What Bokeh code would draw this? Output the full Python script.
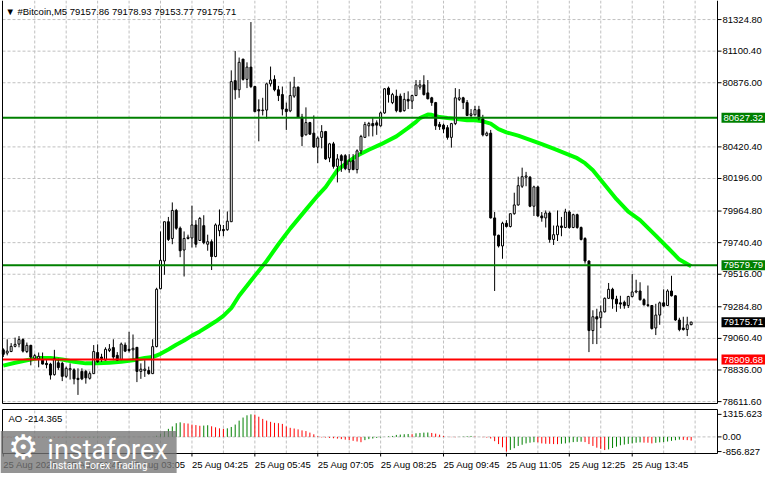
from bokeh.plotting import figure
from bokeh.models import ColumnDataSource, Label, Range1d
from bokeh.core.properties import value
from bokeh.layouts import column
from bokeh.embed import file_html
from bokeh.resources import INLINE

# --- data (M5 bars, 25 Aug from 00:25) ---
opens = [78979, 78956, 78967, 79004, 79020, 79052, 78967, 79011, 78919, 78915,
         78906, 78883, 78878, 78803, 78887, 78883, 78791, 78837, 78837, 78777,
         78826, 78826, 78777, 78810, 78960, 78928, 78906, 78974, 78995, 78940,
         78910, 79013, 78983, 78979, 78997, 78826, 78832, 78832, 78810, 79002,
         79413, 79610, 79889, 79770, 79969, 79843, 79688, 79770, 79774, 79866,
         79756, 79861, 79729, 79747, 79642, 79825, 79834, 79832, 79889, 80891,
         80826, 81044, 80900, 80987, 80849, 80685, 80678, 80682, 80868, 80900,
         80826, 80792, 80689, 80676, 80781, 80845, 80632, 80506, 80593, 80518,
         80419, 80488, 80529, 80342, 80442, 80282, 80358, 80358, 80259, 80323,
         80259, 80392, 80488, 80570, 80586, 80591, 80570, 80662, 80838, 80735,
         80781, 80781, 80678, 80758, 80746, 80785, 80845, 80861, 80804, 80769,
         80735, 80580, 80575, 80557, 80488, 80586, 80758, 80769, 80735, 80644,
         80648, 80685, 80621, 80502, 80518, 79916, 79793, 79717, 79878, 79855,
         79946, 80008, 80141, 80205, 80205, 79999, 80136, 79930, 79916, 79951,
         79763, 79797, 79859, 79848, 79958, 79848, 79939, 79848, 79770, 79610,
         79116, 79214, 79207, 79249, 79345, 79409, 79340, 79313, 79317, 79294,
         79358, 79390, 79397, 79335, 79299, 79294, 79134, 79226, 79313, 79294,
         79397, 79363, 79191, 79134, 79123, 79157.86]
highs = [78990, 79054, 79027, 79066, 79077, 79061, 79031, 79015, 78951, 78960,
         78960, 78906, 78887, 78979, 78917, 78894, 78860, 78883, 78848, 78848,
         78848, 78837, 78826, 79013, 79018, 78951, 78997, 79020, 79054, 78963,
         79031, 79031, 79107, 79088, 78997, 78883, 78906, 78860, 79054, 79420,
         79820, 79889, 79923, 80026, 79980, 79855, 79820, 79797, 80003, 79900,
         79923, 79935, 79797, 79763, 79877, 79976, 79866, 79962, 80964, 81101,
         81055, 81044, 81021, 81307, 80854, 80758, 80769, 80877, 80991, 80929,
         80854, 80849, 80735, 80884, 80918, 80849, 80655, 80701, 80598, 80644,
         80495, 80575, 80534, 80449, 80456, 80369, 80369, 80369, 80369, 80369,
         80403, 80506, 80598, 80598, 80625, 80609, 80671, 80838, 80849, 80804,
         80827, 80799, 80804, 80815, 80792, 80895, 80895, 80929, 80895, 80776,
         80740, 80598, 80586, 80575, 80591, 80838, 80831, 80776, 80753, 80689,
         80712, 80712, 80648, 80529, 80541, 79958, 79797, 79889, 79900, 79946,
         80095, 80209, 80273, 80243, 80214, 80145, 80145, 79958, 79969, 79962,
         79862, 79969, 79923, 79981, 79969, 79946, 79946, 79855, 79779, 79614,
         79260, 79271, 79294, 79351, 79454, 79420, 79363, 79363, 79329, 79363,
         79518, 79477, 79459, 79345, 79436, 79294, 79306, 79322, 79409, 79409,
         79505, 79367, 79207, 79214, 79214, 79178.93]
lows = [78928, 78940, 78963, 78997, 78997, 78960, 78956, 78869, 78910, 78855,
        78876, 78848, 78768, 78796, 78837, 78757, 78780, 78768, 78734, 78659,
        78764, 78739, 78768, 78810, 78887, 78894, 78901, 78963, 78906, 78901,
        78906, 78963, 78960, 78906, 78750, 78773, 78787, 78803, 78810, 78997,
        79409, 79512, 79752, 79729, 79832, 79637, 79500, 79763, 79706, 79706,
        79752, 79729, 79683, 79546, 79637, 79786, 79786, 79825, 79889, 80758,
        80769, 80891, 80838, 80838, 80667, 80460, 80644, 80621, 80849, 80815,
        80746, 80644, 80541, 80667, 80769, 80627, 80426, 80502, 80506, 80415,
        80305, 80410, 80328, 80312, 80266, 80168, 80243, 80255, 80237, 80255,
        80232, 80369, 80483, 80495, 80495, 80506, 80564, 80655, 80735, 80724,
        80666, 80666, 80671, 80689, 80689, 80781, 80827, 80785, 80758, 80712,
        80541, 80541, 80518, 80472, 80415, 80575, 80746, 80689, 80639, 80632,
        80644, 80609, 80495, 80495, 79912, 79397, 79706, 79626, 79848, 79848,
        79939, 80003, 80129, 80141, 79992, 79930, 79923, 79889, 79848, 79740,
        79724, 79752, 79786, 79843, 79839, 79843, 79839, 79756, 79592, 78963,
        79020, 79020, 79134, 79244, 79340, 79271, 79249, 79271, 79271, 79276,
        79351, 79381, 79329, 79294, 79283, 79123, 79084, 79157, 79283, 79290,
        79358, 79185, 79111, 79116, 79077, 79153.77]
closes = [78947, 78970, 79004, 79018, 79052, 78970, 79011, 78928, 78938, 78933,
          78878, 78874, 78800, 78917, 78853, 78791, 78848, 78846, 78773, 78768,
          78773, 78780, 78810, 78967, 78894, 78917, 78983, 78986, 78928, 78906,
          79020, 78970, 78974, 78990, 78826, 78842, 78842, 78810, 79002, 79409,
          79615, 79889, 79763, 79969, 79843, 79683, 79770, 79779, 79866, 79729,
          79912, 79740, 79747, 79642, 79866, 79866, 79825, 79893, 80884, 80826,
          81021, 80900, 80987, 80849, 80671, 80676, 80682, 80868, 80895, 80826,
          80785, 80689, 80671, 80785, 80845, 80632, 80495, 80593, 80511, 80419,
          80483, 80529, 80335, 80442, 80282, 80335, 80323, 80266, 80319, 80259,
          80392, 80495, 80580, 80586, 80570, 80575, 80662, 80833, 80792, 80792,
          80678, 80671, 80758, 80746, 80785, 80861, 80861, 80792, 80762, 80735,
          80570, 80564, 80547, 80488, 80586, 80769, 80769, 80735, 80644, 80655,
          80685, 80621, 80506, 80518, 79916, 79793, 79717, 79878, 79855, 79946,
          80008, 80145, 80209, 80214, 79999, 80136, 79930, 79916, 79951, 79763,
          79797, 79859, 79848, 79958, 79848, 79939, 79848, 79763, 79610, 79116,
          79214, 79198, 79249, 79345, 79409, 79340, 79306, 79304, 79294, 79358,
          79390, 79397, 79335, 79299, 79294, 79130, 79226, 79313, 79290, 79397,
          79363, 79191, 79123, 79123, 79157, 79175.71]

# moving average, sampled at bar indexes
ma_idx = [0, 3, 6, 9, 12, 15, 18, 21, 24, 27, 30, 33, 36, 38, 40, 42, 44, 46, 48, 50,
          52, 54, 56, 58, 60, 63, 67, 70, 73, 77, 80, 82, 85, 88, 90, 93, 96, 100, 103, 105,
          106, 108, 109, 111, 113, 115, 118, 120, 122, 124, 126, 128, 131, 134, 137, 140,
          143, 146, 148, 150, 153, 156, 159, 162, 166, 169, 172, 175]
ma_vals = [78867, 78887, 78905, 78921, 78921, 78910, 78894, 78883, 78883, 78887, 78894,
           78905, 78921, 78928, 78951, 78981, 79015, 79045, 79080, 79110, 79145, 79180,
           79220, 79275, 79363, 79470, 79610, 79729, 79840, 79975, 80075, 80135, 80255,
           80320, 80358, 80400, 80438, 80495, 80555, 80598, 80625, 80650, 80648, 80632,
           80625, 80621, 80609, 80609, 80602, 80586, 80547, 80524, 80500, 80471, 80440,
           80408, 80375, 80340, 80305, 80255, 80152, 80049, 79960, 79900, 79790, 79706,
           79620, 79573]

# Awesome Oscillator
ao = [-22, -28, -31, -27, -20, -16, -19, -24, -30, -34, -37, -33, -29, -35, -40, -43,
      -38, -34, -39, -44, -47, -42, -36, -30, -27, -31, -26, -21, -24, -19, -14, -9,
      -13, -6, -10, -18, -12, -7, 4, 70,
      190, 320, 470, 610, 800, 850, 800, 780, 720, 690,
      650, 660, 680, 620, 560, 500, 470, 500, 580, 720,
      950, 1130, 1260, 1315.623, 1300, 1180, 1050, 950, 880, 820,
      800, 760, 610, 530, 490, 440, 380, 340, 250, 150,
      40, -30, -40, -60, -80, -100, -130, -160, -190, -230,
      -270, -310, -190, -130, -95, -60, -35, -5, 30, 55,
      115, 135, 155, 170, 160, 210, 230, 250, 255, 230,
      190, 130, 55, 5, -15, -20, -5, 20, 40, 55,
      20, 0, -20, -40, -95, -250, -420, -610, -856.827, -760,
      -660, -530, -460, -380, -340, -310, -320, -380, -400, -405,
      -420, -425, -400, -380, -325, -305, -290, -280, -305, -420,
      -530, -630, -700, -770, -730, -650, -570, -490, -450, -410,
      -375, -340, -320, -335, -340, -380, -345, -320, -300, -270,
      -230, -195, -160, -175, -190, -214.365]

levels_green = [80627.32, 79579.79]
level_red = 78909.68
bid = 79175.71

price_ticks = [81324.80, 81100.40, 80876.00, 80420.40, 80196.00, 79964.80,
               79740.40, 79516.00, 79284.80, 79060.40, 78836.00, 78611.60]
ao_ticks = [1315.623, 0.0, -856.827]
ao_tick_labels = ["1315.623", "0.00", "-856.827"]
time_ticks = [0, 16, 32, 48, 64, 80, 96, 112, 128, 144, 160]
time_labels = ["25 Aug 2026", "25 Aug 01:45", "25 Aug 03:05", "25 Aug 04:25",
               "25 Aug 05:45", "25 Aug 07:05", "25 Aug 08:25", "25 Aug 09:45",
               "25 Aug 11:05", "25 Aug 12:25", "25 Aug 13:45"]

FONT = "Liberation Sans"
FS = "9.5px"
GRID = "#c0c0c0"

# chart box in data units; the frame also covers the price scale on the right
L, R = -0.2, 181.7
PX = 715 / (R - L)          # pixels per bar
X_RANGE = (L - 2 / PX, R + 48 / PX)
P_TOP, P_BOT = 81453, 78598  # price at top / bottom border
A_TOP, A_BOT = 1600, -970    # AO at top / bottom border

n = len(opens)
xs = list(range(n))
src = ColumnDataSource(dict(
    x=xs, h=highs, l=lows,
    top=[max(a, b) for a, b in zip(opens, closes)],
    bottom=[min(a, b) for a, b in zip(opens, closes)],
    fill=["white" if c >= o else "black" for o, c in zip(opens, closes)],
))


def bare(fig):
    fig.outline_line_color = None
    fig.grid.visible = False
    fig.min_border = 0
    return fig


# ---------- price panel ----------
ppx = (P_TOP - P_BOT) / 402
p_top_edge = P_TOP + ppx
p = bare(figure(width=765, height=407, x_range=Range1d(*X_RANGE),
                y_range=Range1d(p_top_edge - 407 * ppx, p_top_edge),
                x_axis_location=None, y_axis_location=None,
                toolbar_location=None, output_backend="svg"))

# grid
p.segment(x0=[L] * len(price_ticks), x1=[R] * len(price_ticks), y0=price_ticks, y1=price_ticks,
          line_color=GRID, line_dash="3 2", line_width=1)
vg = list(range(8, 181, 8))
p.segment(x0=vg, x1=vg, y0=[P_BOT] * len(vg), y1=[p_top_edge] * len(vg),
          line_color=GRID, line_dash="3 2", line_width=1)
p.segment(x0=[L], x1=[R], y0=[bid], y1=[bid], line_color=GRID, line_width=1)

p.line(ma_idx, ma_vals, line_color="#00ff00", line_width=4)

p.segment(x0="x", y0="l", x1="x", y1="h", source=src, line_color="black", line_width=1)
p.vbar(x="x", top="top", bottom="bottom", width=0.5, source=src,
       fill_color="fill", line_color="black", line_width=1)

p.segment(x0=[L, L], x1=[R, R], y0=levels_green, y1=levels_green, line_color="#008000", line_width=2)
p.segment(x0=[L], x1=[R], y0=[level_red], y1=[level_red], line_color="#ff0000", line_width=2)

# border and price scale
p.segment(x0=[L, R, L], x1=[L, R, R], y0=[P_BOT, P_BOT, P_BOT], y1=[p_top_edge, p_top_edge, P_BOT],
          line_color="black", line_width=1)
p.segment(x0=[R] * len(price_ticks), x1=[R + 4 / PX] * len(price_ticks), y0=price_ticks, y1=price_ticks,
          line_color="black", line_width=1)
p.text(x=[R + 5 / PX] * len(price_ticks), y=price_ticks, text=["%.2f" % t for t in price_ticks],
       text_font=value(FONT), text_font_size=FS, text_color="black",
       text_align="left", text_baseline="middle")

for val, bg in [(levels_green[0], "#008000"), (levels_green[1], "#008000"),
                (bid, "black"), (level_red, "#ff0000")]:
    p.add_layout(Label(x=R, y=val, x_offset=4, text="%.2f" % val, text_color="white",
                       text_font=FONT, text_font_size=FS, text_baseline="middle",
                       text_align="left", background_fill_color=bg, padding=2))

p.add_layout(Label(x=L + 0.75, y=P_TOP - 10 * ppx,
                   text="\u25bc  #Bitcoin,M5  %.2f %.2f %.2f %.2f"
                   % (opens[-1], highs[-1], lows[-1], closes[-1]),
                   text_font=FONT, text_font_size=FS, text_color="black", text_baseline="middle"))

# ---------- AO panel ----------
apx = (A_TOP - A_BOT) / 44
a_top_edge = A_TOP + 2 * apx
a = bare(figure(width=765, height=66, x_range=p.x_range,
                y_range=Range1d(a_top_edge - 66 * apx, a_top_edge),
                x_axis_location=None, y_axis_location=None,
                toolbar_location=None, output_backend="svg"))

a.segment(x0=vg, x1=vg, y0=[A_BOT] * len(vg), y1=[A_TOP] * len(vg),
          line_color=GRID, line_dash="3 2", line_width=1)
a.segment(x0=[L], x1=[R], y0=[0], y1=[0], line_color=GRID, line_dash="3 2", line_width=1)

ao_colors = ["#ff0000"] + ["#008000" if ao[i] > ao[i - 1] else "#ff0000" for i in range(1, n)]
a.segment(x0=xs, y0=[0] * n, x1=xs, y1=ao, line_color=ao_colors, line_width=1)

a.segment(x0=[L, R, L, L], x1=[L, R, R, R], y0=[A_BOT, A_BOT, A_BOT, A_TOP],
          y1=[A_TOP, A_TOP, A_BOT, A_TOP], line_color="black", line_width=1)
a.segment(x0=[R] * 3, x1=[R + 4 / PX] * 3, y0=ao_ticks, y1=ao_ticks, line_color="black")
a.text(x=[R + 5 / PX] * 3, y=ao_ticks, text=ao_tick_labels,
       text_font=value(FONT), text_font_size=FS, text_color="black",
       text_align="left", text_baseline="middle")

a.segment(x0=time_ticks, x1=time_ticks, y0=[A_BOT] * len(time_ticks),
          y1=[A_BOT - 3 * apx] * len(time_ticks), line_color="black")
a.text(x=time_ticks, y=[A_BOT - 10.5 * apx] * len(time_ticks), text=time_labels,
       text_font=value(FONT), text_font_size=FS, text_color="black",
       text_align="left", text_baseline="middle")

a.add_layout(Label(x=L + 1.5, y=A_TOP - 8.5 * apx, text="AO %.3f" % ao[-1],
                   text_font=FONT, text_font_size=FS, text_color="black", text_baseline="middle"))

# watermark
a.quad(left=[X_RANGE[0]], right=[44.1], bottom=[a_top_edge - 66 * apx], top=[A_TOP - 21.5 * apx],
       fill_color="#767676", fill_alpha=0.78, line_alpha=0)
a.text(x=[5.1], y=[A_TOP - 37.2 * apx], text=["\u2699"], text_font=value("DejaVu Sans"),
       text_font_size="34px", text_color="white", text_align="center", text_baseline="middle")
a.text(x=[11.2], y=[A_TOP - 40.5 * apx], text=["instaforex"], text_font=value("Roboto"),
       text_font_size="27px", text_color="white", text_baseline="middle")
a.text(x=[11.7], y=[A_TOP - 56.2 * apx], text=["Instant Forex Trading"], text_font=value("Roboto"),
       text_font_size="10.5px", text_color="white", text_baseline="middle")

layout = column(p, a)
open("out.html", "w").write(file_html(layout, INLINE))
